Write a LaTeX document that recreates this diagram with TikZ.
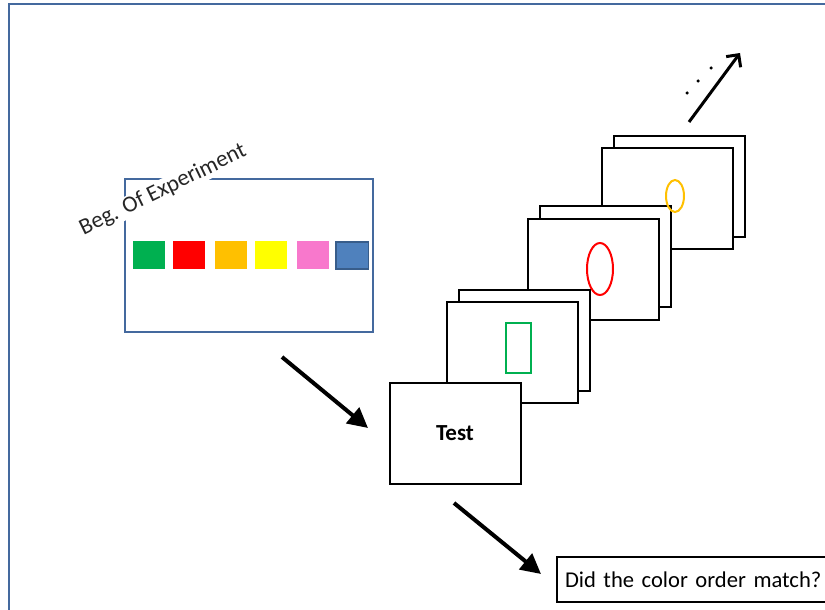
\documentclass[tikz,border=0pt]{standalone}
\usepackage{fontspec}
\setmainfont{Carlito}
\usetikzlibrary{shapes.geometric,arrows.meta}

\definecolor{frameblue}{RGB}{68,105,158}
\definecolor{sgreen}{RGB}{0,176,80}
\definecolor{sred}{RGB}{255,0,0}
\definecolor{sorange}{RGB}{255,192,0}
\definecolor{syellow}{RGB}{255,255,0}
\definecolor{spink}{RGB}{248,120,204}
\definecolor{sblue}{RGB}{79,129,189}
\definecolor{sbluedark}{RGB}{56,93,138}

\begin{document}
\begin{tikzpicture}[x=1pt, y=-1pt,
      slide/.style={rectangle, draw=black, fill=white, line width=2pt,
        minimum width=131pt, minimum height=101pt, inner sep=0pt},
      swatch/.style={rectangle, minimum width=32pt, minimum height=28pt, inner sep=0pt},
      bigarrow/.style={-{Triangle[length=20pt,width=20pt]}, line width=4pt},
      dot/.style={circle, fill=black, inner sep=0pt, minimum size=3.5pt},
      bigtext/.style={font=\fontsize{23}{27}\selectfont}]

    \useasboundingbox (0,0) rectangle (825,610);
    \draw[frameblue, line width=1.5pt] (9,640) -- (9,4) -- (850,4);

    \node[rectangle, draw=frameblue, line width=2pt, minimum width=248pt,
      minimum height=153pt] (beg) at (249,255.5) {};
    \node[bigtext, fill=white, text=black!85, rotate=26, inner sep=1pt] (begl) at (163,190) {Beg. Of Experiment};

    \foreach \x/\c [count=\i] in {149/sgreen, 188.5/sred, 231/sorange, 270.5/syellow, 312.5/spink}
      \node[swatch, fill=\c] (s\i) at (\x,255) {};
    \node[swatch, fill=sblue, draw=sbluedark, line width=1.5pt, minimum width=32.5pt,
      minimum height=27pt] (s6) at (352,255.5) {};

    \node[slide] (c3) at (679,186) {};
    \node[slide] (f3) at (667,198) {};
    \node[slide] (c2) at (605,256) {};
    \node[slide] (f2) at (593,269) {};
    \node[slide] (c1) at (524,340) {};
    \node[slide] (f1) at (512,352) {};
    \node[slide, font=\bfseries\fontsize{23}{27}\selectfont] (test) at (455,433) {Test};

    \node[ellipse, draw=sorange, line width=2pt, minimum width=18pt, minimum height=32pt,
      inner sep=0pt] (yel) at (675,196) {};
    \node[ellipse, draw=sred, line width=2pt, minimum width=26pt, minimum height=52pt,
      inner sep=0pt] (rdo) at (600,269) {};
    \node[rectangle, draw=sgreen, line width=2pt, minimum width=25pt, minimum height=50pt,
      inner sep=0pt] (grn) at (518.5,348) {};

    \node[draw, line width=2pt, anchor=west, inner xsep=8pt, text width=268pt, align=left,
      minimum height=45pt, font=\fontsize{22.6}{27}\selectfont] (ans) at (556,579.5) {Did the color order match?};

    \coordinate (p1) at (282,357);
    \coordinate (p2) at (368,428);
    \coordinate (p3) at (454,503);
    \coordinate (p4) at (541,574);
    \coordinate (p5) at (689,122);
    \coordinate (p6) at (740,53);

    \draw[bigarrow] (p1) -- (p2);
    \draw[bigarrow] (p3) -- (p4);
    \draw[-{Straight Barb[length=9pt,width=18pt]}, line width=3pt] (p5) -- (p6);

    \node[dot] (d1) at (687,93) {};
    \node[dot] (d2) at (698,81) {};
    \node[dot] (d3) at (711,68) {};

  \end{tikzpicture}
\end{document}
